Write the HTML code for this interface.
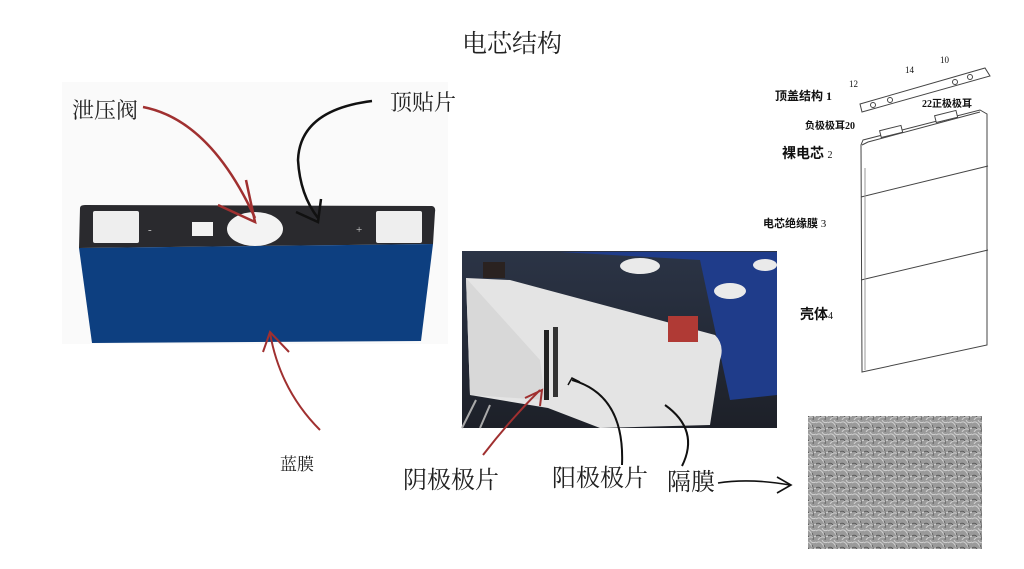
<!DOCTYPE html>
<html><head><meta charset="utf-8"><style>
body{margin:0;background:#fff;}
svg{display:block;font-family:"Liberation Serif","Noto Serif CJK SC","Noto Sans CJK SC",serif;}
</style></head><body>
<svg width="1024" height="569" viewBox="0 0 1024 569" xmlns="http://www.w3.org/2000/svg">
<defs>
<pattern id="sem" width="12" height="12" patternUnits="userSpaceOnUse">
<rect width="12" height="12" fill="#9a9a9a"/>
<path d="M0 3 Q4 0 7 5 T12 8 M2 12 Q5 7 10 10 M6 0 Q8 4 12 2" stroke="#d0d0d0" stroke-width="1" fill="none"/>
<path d="M0 8 Q3 6 5 9 M8 5 Q10 8 9 12" stroke="#555" stroke-width="0.8" fill="none"/>
</pattern>
<linearGradient id="bg2" x1="0" y1="0" x2="0" y2="1"><stop offset="0" stop-color="#2b3446"/><stop offset="1" stop-color="#1d2028"/></linearGradient>
</defs>
<text x="512" y="52" font-size="25" text-anchor="middle" fill="#222">电芯结构</text>

<!-- battery left -->
<rect x="62" y="82" width="386" height="262" fill="#fafafa"/>
<path d="M80 208 Q80 205 85 205 L432 206 Q436 207 435 212 L433 244 L79 248 Z" fill="#2a2a2e"/>
<path d="M79 248 L433 244 L421 341 L92 343 Z" fill="#0d3f80"/>
<rect x="93" y="211" width="46" height="32" fill="#eeeeee" rx="2"/>
<rect x="376" y="211" width="46" height="32" fill="#eeeeee" rx="2"/>
<rect x="192" y="222" width="21" height="14" fill="#f2f2f2"/>
<ellipse cx="255" cy="229" rx="28" ry="17" fill="#f3f3f3"/>
<text x="148" y="233" font-size="11" fill="#ccc">-</text>
<text x="356" y="233" font-size="11" fill="#ccc">+</text>
<text x="72" y="118" font-size="22" fill="#222">泄压阀</text>
<text x="390" y="110" font-size="22" fill="#222">顶贴片</text>
<path d="M143 107 Q210 120 255 218" stroke="#a03030" stroke-width="2.5" fill="none"/>
<path d="M218 205 L255 222 L246 180" stroke="#a03030" stroke-width="2.5" fill="none"/>
<path d="M372 101 Q300 110 298 160 Q300 195 318 218" stroke="#111" stroke-width="2.5" fill="none"/>
<path d="M296 212 L318 222 L321 199" stroke="#111" stroke-width="2.5" fill="none"/>
<path d="M320 430 Q280 390 270 333" stroke="#a03030" stroke-width="2" fill="none"/>
<path d="M263 352 L270 332 L289 352" stroke="#a03030" stroke-width="2" fill="none"/>
<text x="280" y="470" font-size="17" fill="#222">蓝膜</text>

<!-- middle photo -->
<rect x="462" y="251" width="315" height="177" fill="url(#bg2)"/>
<path d="M560 252 L777 252 L777 395 L730 400 L700 260 Z" fill="#1f3c8a"/>
<ellipse cx="640" cy="266" rx="20" ry="8" fill="#eaeaea"/>
<ellipse cx="730" cy="291" rx="16" ry="8" fill="#eaeaea"/>
<ellipse cx="765" cy="265" rx="12" ry="6" fill="#eaeaea"/>
<path d="M466 278 L510 280 L715 335 Q725 345 720 360 L710 425 L600 428 L548 408 L470 395 Z" fill="#e4e4e4"/>
<path d="M466 278 L540 360 L545 400 L470 395 Z" fill="#d8d8d8"/>
<rect x="544" y="330" width="5" height="70" fill="#222"/>
<rect x="553" y="327" width="5" height="70" fill="#333"/>
<rect x="483" y="262" width="22" height="16" fill="#2a2220"/>
<rect x="668" y="316" width="30" height="26" fill="#b03a35"/>
<path d="M476 400 L462 428 M490 405 L480 428" stroke="#aaa" stroke-width="2"/>

<!-- labels under photo -->
<path d="M483 455 Q510 420 540 390" stroke="#a03030" stroke-width="2" fill="none"/>
<path d="M525 398 L542 390 L540 406" stroke="#a03030" stroke-width="2" fill="none"/>
<path d="M622 465 Q625 395 572 380" stroke="#111" stroke-width="2" fill="none"/>
<path d="M568 385 L572 378 L580 382" stroke="#111" stroke-width="1.5" fill="none"/>
<path d="M682 466 Q700 430 665 405" stroke="#111" stroke-width="2" fill="none"/>
<text x="403" y="488" font-size="24" fill="#222">阴极极片</text>
<text x="552" y="486" font-size="24" fill="#222">阳极极片</text>
<text x="667" y="490" font-size="24" fill="#222">隔膜</text>
<path d="M718 483 Q750 478 790 485" stroke="#111" stroke-width="1.6" fill="none"/>
<path d="M777 477 L791 485 L777 493" stroke="#111" stroke-width="1.6" fill="none"/>

<!-- SEM -->
<rect x="808" y="416" width="174" height="133" fill="url(#sem)"/>

<!-- right exploded drawing -->
<g stroke="#444" stroke-width="1" fill="#fff">
<path d="M863 140 L980 110 L987 114 L987 345 L862 372 L861 145 Z"/>
<path d="M861 197 L988 166 M861 280 L988 250" />
<path d="M862 145 L868 142 L980 112"/>
<path d="M865 168 L865 370" stroke="#999"/>
<path d="M860 104 L985 68 L990 76 L862 112 Z"/>
<rect x="880" y="128" width="22" height="7" transform="rotate(-14 891 131)"/>
<rect x="935" y="113" width="22" height="7" transform="rotate(-14 946 116)"/>
<circle cx="873" cy="105" r="2.5"/><circle cx="890" cy="100" r="2.5"/>
<circle cx="955" cy="82" r="2.5"/><circle cx="970" cy="77" r="2.5"/>
</g>
<g font-family="Liberation Serif, Noto Sans CJK SC, sans-serif" fill="#111">
<text x="775" y="100" font-size="12" font-weight="bold">顶盖结构 1</text>
<text x="849" y="87" font-size="9">12</text>
<text x="905" y="73" font-size="9">14</text>
<text x="940" y="63" font-size="9">10</text>
<text x="922" y="107" font-size="10" font-weight="bold">22正极极耳</text>
<text x="805" y="129" font-size="10" font-weight="bold">负极极耳20</text>
<text x="782" y="158" font-size="14" font-weight="bold">裸电芯 <tspan font-size="10" font-weight="normal">2</tspan></text>
<text x="763" y="227" font-size="11" font-weight="bold">电芯绝缘膜 <tspan font-weight="normal">3</tspan></text>
<text x="800" y="319" font-size="14" font-weight="bold">壳体<tspan font-size="10" font-weight="normal">4</tspan></text>
</g>
</svg>
</body></html>
